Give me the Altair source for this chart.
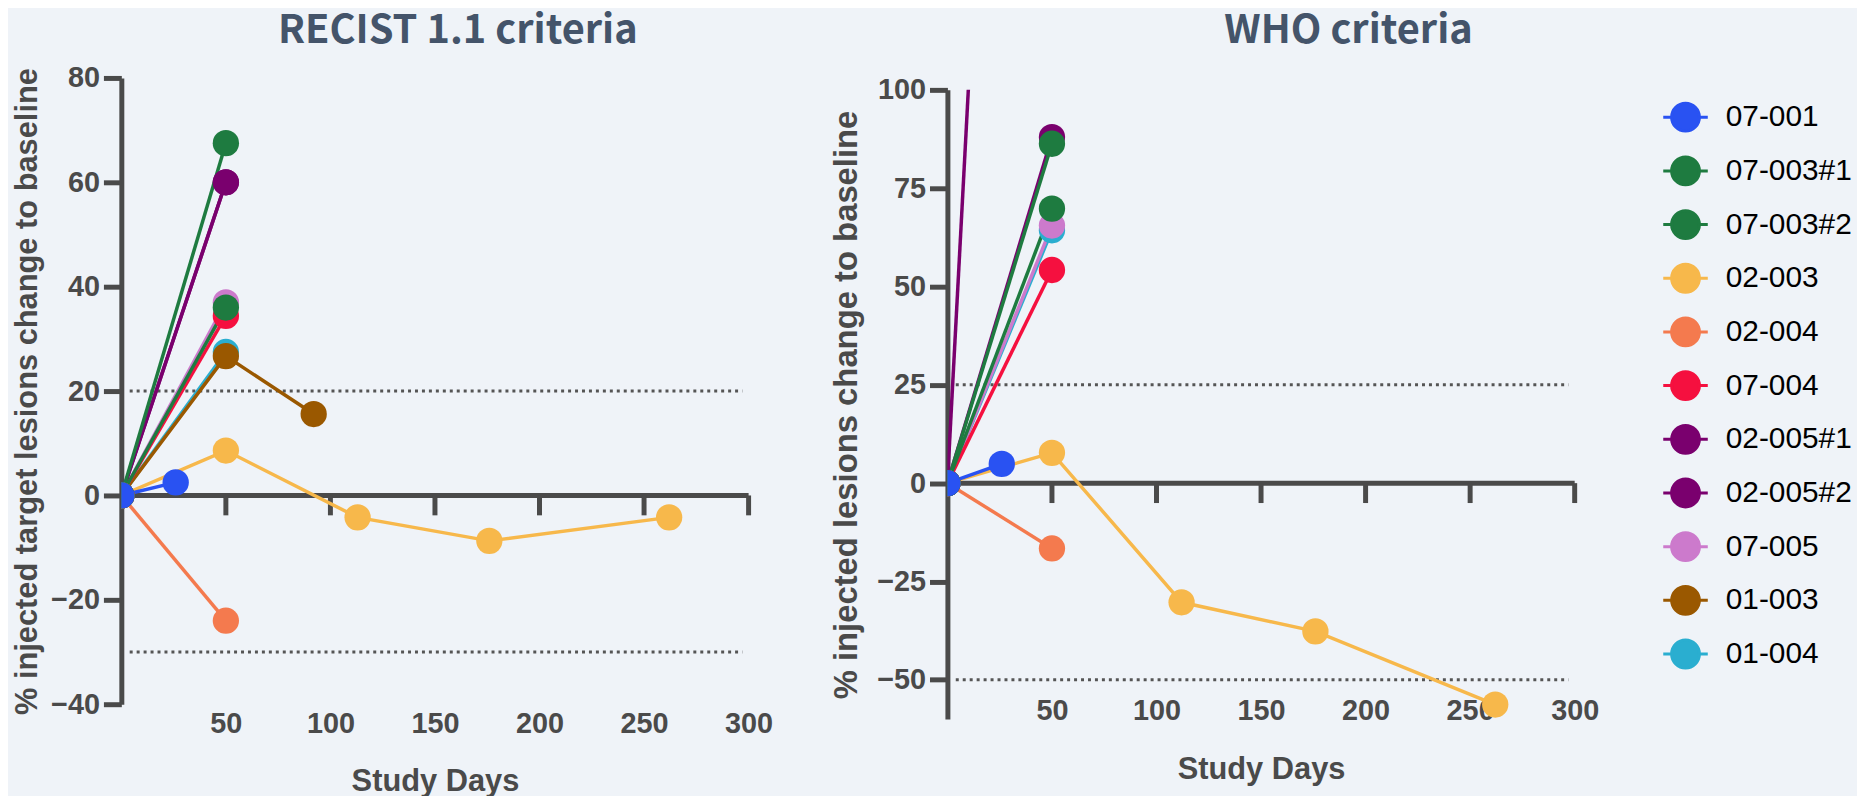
import altair as alt
import pandas as pd

series = ["07-001", "07-003#1", "07-003#2", "02-003", "02-004", "07-004",
          "02-005#1", "02-005#2", "07-005", "01-003", "01-004"]
colors = ["#2952F2", "#1E7B40", "#1E7B40", "#F7B84B", "#F47A4E", "#F5103F",
          "#7A006E", "#7A006E", "#CC7ACC", "#9A5800", "#2AAED0"]

# RECIST 1.1 panel
recist_id = ["07-001", "07-001",
             "07-003#1", "07-003#1",
             "07-003#2", "07-003#2",
             "02-003", "02-003", "02-003", "02-003", "02-003",
             "02-004", "02-004",
             "07-004", "07-004",
             "02-005#1", "02-005#1",
             "02-005#2", "02-005#2",
             "07-005", "07-005",
             "01-003", "01-003", "01-003",
             "01-004", "01-004"]
recist_day = [0, 26, 0, 50, 0, 50, 0, 50, 113, 176, 262, 0, 50, 0, 50,
              0, 50, 0, 50, 0, 50, 0, 50, 92, 0, 50]
recist_pct = [0, 2.5, 0, 67.5, 0, 36, 0, 8.6, -4.2, -8.7, -4.2, 0, -24, 0, 34.4,
              0, 60, 0, 60, 0, 37, 0, 26.7, 15.6, 0, 27.5]

# WHO panel
who_id = ["07-001", "07-001",
          "07-003#1", "07-003#1",
          "07-003#2", "07-003#2",
          "02-003", "02-003", "02-003", "02-003", "02-003",
          "02-004", "02-004",
          "07-004", "07-004",
          "02-005#1", "02-005#1",
          "02-005#2", "02-005#2",
          "07-005", "07-005",
          "01-004", "01-004"]
who_day = [0, 26, 0, 50, 0, 50, 0, 50, 112, 176, 262, 0, 50, 0, 50,
           0, 50, 0, 50, 0, 50, 0, 50]
who_pct = [0, 4.9, 0, 86.3, 0, 69.8, 0, 7.7, -30.3, -37.7, -56.3, 0, -16.6, 0, 54.2,
           0, 88, 0, 500, 0, 65.5, 0, 64.3]

x_ticks = [50, 100, 150, 200, 250, 300]
recist_yticks = [-40, -20, 0, 20, 40, 60, 80]
who_yticks = [-50, -25, 0, 25, 50, 75, 100]
recist_thresholds = [20, -30]
who_thresholds = [25, -50]

AX = "#4a4a4a"
BG = "#EFF3F8"
FONT = "Liberation Sans"

LEG_PATH = "M-1.6,0L-1,0M1,0L1.6,0M-1,0A1,1,0,1,0,1,0A1,1,0,1,0,-1,0Z"

color_enc = alt.Color(
    "id:N",
    scale=alt.Scale(domain=series, range=colors),
    legend=alt.Legend(
        title=None, orient="none", legendX=1558, legendY=24,
        symbolType=LEG_PATH, symbolSize=784, symbolStrokeWidth=3,
        symbolOpacity=1,
        labelFont=FONT, labelFontSize=30, labelColor="#000000",
        labelOffset=25, rowPadding=13.0, labelLimit=400,
    ),
)


def frame(ids, days, pcts):
    df = pd.DataFrame({"id": ids, "day": days, "pct": pcts})
    df["rank"] = [series.index(i) for i in df["id"]]
    df = df.sort_values(["rank", "day"], ascending=[False, True], kind="stable")
    return df


def panel(df, ydom, yvals, ytitle, thresholds, title, dx, toff, h, top,
          xlabpad, xtitlepad, ytitlepad, ytitlesize):
    x_enc = alt.X("day:Q", scale=alt.Scale(domain=[0, 300], nice=False, zero=False),
                  axis=alt.Axis(
                      values=x_ticks, ticks=False, tickSize=0, domain=False, grid=False,
                      labelFlush=False,
                      labelPadding=xlabpad, labelFont=FONT, labelFontSize=29,
                      labelFontWeight="bold", labelColor=AX,
                      title="Study Days", titleFont=FONT, titleFontSize=31,
                      titleFontWeight="bold", titleColor=AX, titlePadding=xtitlepad))
    y_enc = alt.Y("pct:Q",
                  scale=alt.Scale(domain=ydom, nice=False, zero=False, range=[h, top]),
                  axis=alt.Axis(
                      values=yvals, grid=False, domainColor=AX, domainWidth=5,
                      tickColor=AX, tickWidth=5, tickSize=18, labelPadding=4,
                      labelFont=FONT, labelFontSize=29, labelFontWeight="bold",
                      labelColor=AX, title=ytitle, titleFont=FONT,
                      titleFontSize=ytitlesize,
                      titleFontWeight="bold", titleColor=AX, titlePadding=ytitlepad))

    zero_df = pd.DataFrame({"day": [0], "day2": [300], "pct": [0]})
    zero = alt.Chart(zero_df).mark_rule(strokeWidth=5, color=AX).encode(
        x=x_enc, x2="day2:Q", y=y_enc)

    tick_df = pd.DataFrame({"day": x_ticks, "pct": [0] * len(x_ticks)})
    ticks = alt.Chart(tick_df).mark_rule(strokeWidth=5, color=AX, y2Offset=20).encode(
        x=x_enc, y=y_enc, y2="pct:Q")

    thr_df = pd.DataFrame({"day": [4] * len(thresholds), "day2": [297] * len(thresholds),
                           "pct": thresholds})
    thr = alt.Chart(thr_df).mark_rule(strokeWidth=3, color="#555555",
                                      strokeDash=[3, 4]).encode(
        x=x_enc, x2="day2:Q", y=y_enc)

    lines = alt.Chart(df).mark_line(strokeWidth=3.5, clip=True).encode(
        x=x_enc, y=y_enc, color=color_enc)
    points = alt.Chart(df).mark_circle(size=700, opacity=1, clip=True).encode(
        x=x_enc, y=y_enc, color=color_enc,
        order=alt.Order("rank:Q", sort="descending"))
    layers = [zero, ticks, thr, lines]
    if top > 0:
        # hide the part of the plot frame above the top of the value axis
        mask = alt.Chart(zero_df).mark_rect(color=BG).encode(
            x=alt.value(3), x2=alt.value(631), y=alt.value(0), y2=alt.value(top))
        layers.append(mask)
    layers.append(points)
    return alt.layer(*layers).properties(
        width=631, height=h,
        title=alt.TitleParams(title, font="Noto Sans CJK KR", fontSize=40,
                              fontWeight="bold", color="#44546A",
                              anchor="middle", frame="group", dx=dx, offset=toff),
    )


left = panel(frame(recist_id, recist_day, recist_pct), [-40, 80], recist_yticks,
             "% injected target lesions change to baseline", recist_thresholds,
             "RECIST 1.1 criteria", 23, 13.5, 630, 0, 5, 29, 7, 31)
right = panel(frame(who_id, who_day, who_pct), [-60, 100], who_yticks,
              "% injected lesions change to baseline", who_thresholds,
              "WHO criteria", 88, 25.5, 645, 12, -22.5, 29, 13, 33)

chart = alt.hconcat(left, right, spacing=57).properties(
    background=BG, padding={"left": 3, "top": 0, "right": 5, "bottom": 0}
).configure_view(stroke=None)

chart.save("out.html", embed_options={"renderer": "svg", "actions": False})
